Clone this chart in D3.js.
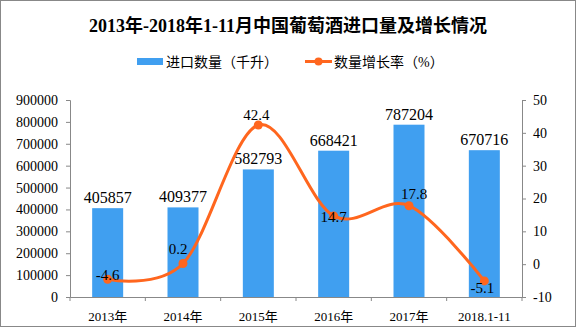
<!DOCTYPE html>
<html><head><meta charset="utf-8">
<script src="https://cdn.jsdelivr.net/npm/d3@7/dist/d3.min.js"></script>
<style>
html,body{margin:0;padding:0;background:#fff;}
svg{display:block;}
</style></head>
<body>
<svg id="chart" width="576" height="327"></svg>
<script>
const title = "2013年-2018年1-11月中国葡萄酒进口量及增长情况";
const categories = ["2013年","2014年","2015年","2016年","2017年","2018.1-11"];
const importVolume = [405857,409377,582793,668421,787204,670716];
const growthRate = [-4.6,0.2,42.4,14.7,17.8,-5.1];
const leftTicks = [0,100000,200000,300000,400000,500000,600000,700000,800000,900000];
const rightTicks = [-10,0,10,20,30,40,50];
const seriesNames = ["进口数量（千升）","数量增长率（%）"];

const BLUE = "#409ff0", ORANGE = "#ff661e";
const FONT = "'Liberation Serif','Noto Sans CJK SC',serif";
// label offsets (styling only) for growth labels: [dx, dy of baseline]
const rateLabelOffset = [[0,1],[-5,-10],[-2,-5],[0,6],[5,-7],[-2,12]];

const svg = d3.select("#chart");
const W = 576, H = 327;
const L = 70, R = 522, T = 100, B = 297;

svg.append("rect").attr("x",0.5).attr("y",0.5).attr("width",W-1).attr("height",H-1)
  .attr("fill","#fff").attr("stroke","#888").attr("stroke-width",1);

svg.append("text").attr("x",288).attr("y",32).attr("text-anchor","middle")
  .attr("font-family",FONT).attr("font-weight","bold").attr("font-size",18).attr("fill","#000")
  .text(title);

// legend
const lg = svg.append("g");
lg.append("rect").attr("x",137).attr("y",58).attr("width",26).attr("height",7).attr("fill",BLUE);
lg.append("text").attr("x",166).attr("y",66.5).attr("font-family",FONT).attr("font-size",14).text(seriesNames[0]);
lg.append("line").attr("x1",305).attr("x2",332).attr("y1",61.5).attr("y2",61.5).attr("stroke",ORANGE).attr("stroke-width",3);
lg.append("circle").attr("cx",318.5).attr("cy",61.5).attr("r",4).attr("fill",ORANGE);
lg.append("text").attr("x",334).attr("y",66.5).attr("font-family",FONT).attr("font-size",14).text(seriesNames[1]);

const x = d3.scaleBand().domain(categories).range([L,R]).paddingInner(0).paddingOuter(0);
const yL = d3.scaleLinear().domain([0,900000]).range([B,T]);
const yR = d3.scaleLinear().domain([-10,50]).range([B,T]);

// bars
const bw = 31;
svg.append("g").selectAll("rect").data(importVolume).join("rect")
  .attr("x",(d,i)=>x(categories[i])+x.bandwidth()/2-bw/2)
  .attr("y",d=>yL(d)).attr("width",bw).attr("height",d=>B-yL(d)).attr("fill",BLUE);

// left axis
const axL = svg.append("g").attr("transform",`translate(${L},0)`)
  .call(d3.axisLeft(yL).tickValues(leftTicks).tickFormat(d3.format("d")).tickSize(4).tickPadding(8));
// right axis
const axR = svg.append("g").attr("transform",`translate(${R},0)`)
  .call(d3.axisRight(yR).tickValues(rightTicks).tickFormat(d=>d<0?"-"+Math.abs(d):d).tickSize(4).tickPadding(7));
// x axis
const axB = svg.append("g").attr("transform",`translate(0,${B})`)
  .call(d3.axisBottom(x).tickSize(0).tickPadding(15));
axB.selectAll(".tick text").attr("font-size",13);
// boundary ticks
const bounds = categories.map(c=>x(c)).concat([R]);
svg.append("g").selectAll("line").data(bounds).join("line")
  .attr("x1",d=>d).attr("x2",d=>d).attr("y1",B).attr("y2",B+4).attr("stroke","#888");

[axL,axR,axB].forEach(a=>{
  a.selectAll(".domain").attr("stroke","#888");
  a.selectAll(".tick line").attr("stroke","#888");
  a.selectAll("text").attr("font-family",FONT).attr("fill","#000");
});
axL.selectAll(".tick text").attr("font-size",14);
axR.selectAll(".tick text").attr("font-size",14);

// bar labels
svg.append("g").selectAll("text").data(importVolume).join("text")
  .attr("x",(d,i)=>x(categories[i])+x.bandwidth()/2)
  .attr("y",d=>yL(d)-5).attr("text-anchor","middle")
  .attr("font-family",FONT).attr("font-size",16).attr("fill","#000").text(d=>d);

// line
const cx = i=>x(categories[i])+x.bandwidth()/2;
const line = d3.line().x((d,i)=>cx(i)).y(d=>yR(d)).curve(d3.curveCardinal.tension(0));
svg.append("path").datum(growthRate).attr("d",line).attr("fill","none")
  .attr("stroke",ORANGE).attr("stroke-width",3);
svg.append("g").selectAll("circle").data(growthRate).join("circle")
  .attr("cx",(d,i)=>cx(i)).attr("cy",d=>yR(d)).attr("r",4.5).attr("fill",ORANGE);

// rate labels
svg.append("g").selectAll("text").data(growthRate).join("text")
  .attr("x",(d,i)=>cx(i)+rateLabelOffset[i][0])
  .attr("y",(d,i)=>yR(d)+rateLabelOffset[i][1]).attr("text-anchor","middle")
  .attr("font-family",FONT).attr("font-size",15).attr("fill","#000").text(d=>d);
</script>
</body></html>
